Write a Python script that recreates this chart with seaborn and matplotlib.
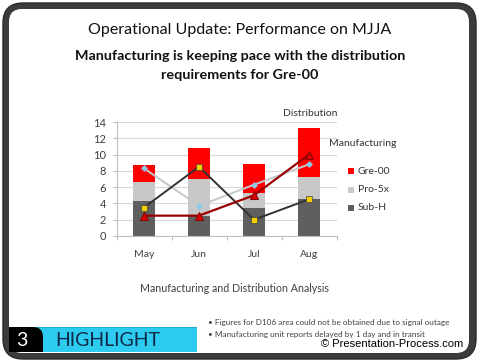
import matplotlib
matplotlib.use("Agg")
import matplotlib.pyplot as plt
import seaborn as sns
import numpy as np
import pandas as pd
from matplotlib.patches import FancyBboxPatch, Rectangle

# ---- data ----
months = ["May", "Jun", "Jul", "Aug"]
sub_h = [4.3, 2.5, 3.5, 4.5]
pro_5x = [2.35, 4.45, 1.8, 2.75]
gre_00 = [2.05, 3.9, 3.5, 6.0]
line_light = [8.3, 3.7, 6.3, 8.8]
line_black = [3.5, 8.5, 2.0, 4.5]
line_red = [2.5, 2.5, 5.0, 10.0]
yticks = [0, 2, 4, 6, 8, 10, 12, 14]

sns.set_theme(style="white")
plt.rcParams["font.family"] = ["Lato", "DejaVu Sans"]

W, H = 480, 363
fig = plt.figure(figsize=(W / 100, H / 100), dpi=100)
fig.patch.set_facecolor("white")

# background/overlay axes in pixel coordinates
bg = fig.add_axes([0, 0, 1, 1], zorder=0)
bg.set_xlim(0, W)
bg.set_ylim(H, 0)
bg.axis("off")

# frame
bg.add_patch(FancyBboxPatch((3, 3), 473, 356, boxstyle="round,pad=0,rounding_size=20",
                            facecolor="#3c3c3c", edgecolor="#2a2a2a", lw=1))
bg.add_patch(FancyBboxPatch((9, 9), 460, 344, boxstyle="round,pad=0,rounding_size=13",
                            facecolor="white", edgecolor="none"))

# banner
bg.add_patch(Rectangle((30, 327), 167, 25, facecolor="#2ecbf0", edgecolor="none"))
bg.add_patch(Rectangle((30, 327), 167, 1.2, facecolor="#1aa8d0", edgecolor="none"))
bg.add_patch(FancyBboxPatch((9, 327), 34, 25, boxstyle="round,pad=0,rounding_size=10",
                            facecolor="black", edgecolor="none"))
bg.add_patch(Rectangle((9, 327), 15, 25, facecolor="black", edgecolor="none"))
bg.add_patch(Rectangle((9, 342), 34, 10, facecolor="black", edgecolor="none"))
bg.text(22, 340, "3", color="white", fontsize=14, ha="center", va="center")
bg.text(55, 341, "HIGHLIGHT", color="#0e2a48", fontsize=14, ha="left", va="center")

# titles
bg.text(240, 30, "Operational Update: Performance on MJJA", fontsize=11.5,
        ha="center", va="center", color="#111111",
        family=["Liberation Sans Narrow", "Lato", "DejaVu Sans"])
bg.text(240, 56, "Manufacturing is keeping pace with the distribution", fontsize=10.4,
        fontweight="bold", ha="center", va="center", color="#111111")
bg.text(240, 75, "requirements for Gre-00", fontsize=10.4,
        fontweight="bold", ha="center", va="center", color="#111111")

bg.text(235, 289, "Manufacturing and Distribution Analysis", fontsize=7.7,
        ha="center", va="center", color="#404040")
bg.text(208, 323, "\u2022 Figures for D106 area could not be obtained due to signal outage",
        fontsize=5.9, ha="left", va="center", color="#404040")
bg.text(208, 334, "\u2022 Manufacturing unit reports delayed by 1 day and in transit",
        fontsize=5.9, ha="left", va="center", color="#404040")
bg.text(463, 344, "\u00a9 Presentation-Process.com", fontsize=8, ha="right", va="center",
        color="black", family=["Liberation Sans", "DejaVu Sans"])

# chart labels
bg.text(283, 113, "Distribution", fontsize=7.5, ha="left", va="center", color="#333333")
bg.text(329, 143, "Manufacturing", fontsize=7.5, ha="left", va="center", color="#333333")

# legend
leg_items = [("Gre-00", "#ff0000", 171), ("Pro-5x", "#c8c8c8", 190), ("Sub-H", "#5f5f5f", 208)]
for lab, col, yy in leg_items:
    bg.add_patch(Rectangle((348, yy - 3), 6, 6, facecolor=col, edgecolor="none"))
    bg.text(358, yy, lab, fontsize=7.5, ha="left", va="center", color="#333333")

# ---- chart ----
ax = fig.add_axes([116.5 / W, 1 - 236 / H, 220 / W, 114 / H], zorder=1)
ax.patch.set_alpha(0)

df = pd.DataFrame({"month": months, "sub": sub_h, "pro": pro_5x, "gre": gre_00})
df["top_pro"] = df["sub"] + df["pro"]
df["top_gre"] = df["top_pro"] + df["gre"]

sns.barplot(data=df, x="month", y="top_gre", color="#ff0000", width=0.4,
            saturation=1, ax=ax, zorder=2)
sns.barplot(data=df, x="month", y="top_pro", color="#c8c8c8", width=0.4,
            saturation=1, ax=ax, zorder=2)
sns.barplot(data=df, x="month", y="sub", color="#5f5f5f", width=0.4,
            saturation=1, ax=ax, zorder=2)
for p in ax.patches:
    p.set_edgecolor("none")

sns.pointplot(x=months, y=line_light, color="#c4c8cf", markers="D", linestyles="-",
              ax=ax, lw=1.4, markersize=2.5, markerfacecolor="#8ec8e8",
              markeredgecolor="#8ec8e8", zorder=3)
sns.pointplot(x=months, y=line_black, color="#333333", markers="s", linestyles="-",
              ax=ax, lw=1.4, markersize=4.0, markerfacecolor="#f5d000",
              markeredgecolor="#444444", markeredgewidth=0.5, zorder=4)
sns.pointplot(x=months, y=line_red, color="#9b0000", markers="^", linestyles="-",
              ax=ax, lw=1.6, markersize=5.5, markerfacecolor="#e00000",
              markeredgecolor="#8a0000", markeredgewidth=0.8, zorder=5)

ax.set_xlim(-0.5, 3.5)
ax.set_ylim(0, 14)
ax.set_yticks(yticks)
ax.set_yticklabels([str(v) for v in yticks])
ax.yaxis.grid(True, color="#d9d9d9", lw=0.8)
ax.set_axisbelow(True)
ax.set_xlabel("")
ax.set_ylabel("")
for s in ["top", "right"]:
    ax.spines[s].set_visible(False)
for s in ["left", "bottom"]:
    ax.spines[s].set_color("#bfbfbf")
    ax.spines[s].set_linewidth(0.8)
ax.tick_params(axis="y", length=3, width=0.8, color="#bfbfbf", pad=4.5,
               labelsize=8, labelcolor="#404040", left=True)
ax.tick_params(axis="x", which="major", length=0, pad=10, labelsize=7.5, labelcolor="#404040")
ax.set_xticks([-0.5, 0.5, 1.5, 2.5, 3.5], minor=True)
ax.tick_params(axis="x", which="minor", length=3, width=0.8, color="#bfbfbf", bottom=True)

fig.savefig("out.png", dpi=100, facecolor="white")
